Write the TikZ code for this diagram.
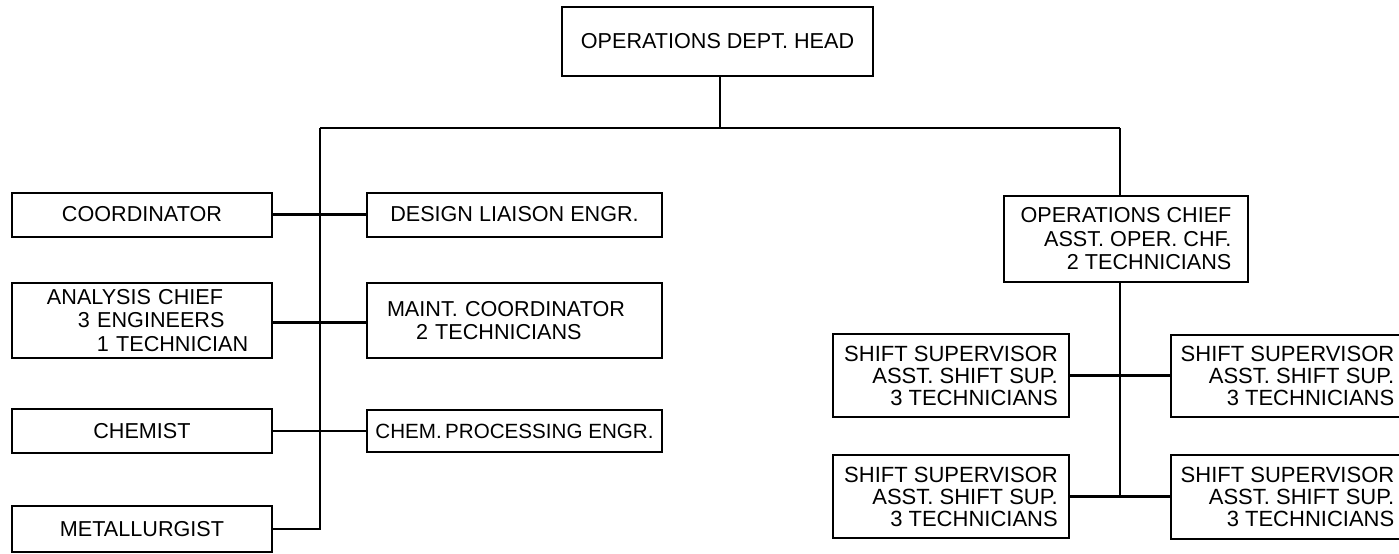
\documentclass[tikz,border=0pt]{standalone}
\usepackage{fontspec}
\setmainfont{Liberation Sans}
\begin{document}
\begin{tikzpicture}[x=0.5pt,y=-0.5pt,
  box/.style={draw, line width=1pt, inner sep=0pt, font=\fontsize{10.8}{11.75}\selectfont},
  shiftbox/.style={box, align=right, font=\fontsize{11}{11}\selectfont},
  conn/.style={line width=1.3pt}]
\clip (0,0) rectangle (1399,553);
\fill[white] (0,0) rectangle (1399,553);
% top
\node[box, minimum width=155.5pt, minimum height=34.5pt] (head) at (717.5,41.5) {OPERATIONS DEPT. HEAD};
% left column
\node[box, minimum width=130pt, minimum height=22pt] (coord) at (142,214.5) {COORDINATOR};
\node[box, minimum width=130pt, minimum height=37.5pt, align=left, text width=110pt, inner xsep=10pt] (analysis) at (142,320.5)
  {\hspace*{7.5pt}\mbox{ANALYSIS CHIEF}\\\hspace*{23pt}\mbox{3 ENGINEERS}\\\hspace*{32.5pt}\mbox{1 TECHNICIAN}};
\node[box, minimum width=130pt, minimum height=22pt] (chemist) at (142,431) {CHEMIST};
\node[box, minimum width=130pt, minimum height=23pt] (metal) at (142,529) {METALLURGIST};
% middle column
\node[box, minimum width=147.5pt, minimum height=22pt] (design) at (514.5,214.5) {DESIGN LIAISON ENGR.};
\node[box, minimum width=147.5pt, minimum height=37.5pt, align=left, text width=127.5pt, inner xsep=10pt] (maint) at (514.5,320.5)
  {\mbox{MAINT. COORDINATOR}\\\hspace*{14.5pt}\mbox{2 TECHNICIANS}};
\node[box, minimum width=147.5pt, minimum height=21pt, font=\fontsize{10.3}{11}\selectfont] (chemproc) at (514.5,431) {CHEM.\,PROCESSING ENGR.};
% right part
\node[box, align=right, minimum width=122pt, minimum height=43pt] (opschief) at (1126,239)
  {OPERATIONS CHIEF\\ASST. OPER. CHF.\\2 TECHNICIANS};
\node[shiftbox, minimum width=118pt, minimum height=41.5pt] (s1) at (951,375.5)
  {SHIFT SUPERVISOR\\ASST. SHIFT SUP.\\3 TECHNICIANS};
\node[shiftbox, minimum width=116.5pt, minimum height=41pt] (s2) at (1287.5,375.5)
  {SHIFT SUPERVISOR\\ASST. SHIFT SUP.\\3 TECHNICIANS};
\node[shiftbox, minimum width=118pt, minimum height=41.5pt] (s3) at (951,496.5)
  {SHIFT SUPERVISOR\\ASST. SHIFT SUP.\\3 TECHNICIANS};
\node[shiftbox, minimum width=116.5pt, minimum height=42pt] (s4) at (1287.5,496.5)
  {SHIFT SUPERVISOR\\ASST. SHIFT SUP.\\3 TECHNICIANS};
% junctions
\coordinate (jl) at (320,128);
\coordinate (jh) at (720,128);
\coordinate (jr) at (1120,128);
% connectors
\draw[conn] (jh |- head.south) -- (jh);
\draw[conn] (jl) -- (jr);
\draw[conn] (jl) -- (jl |- metal.east) -- (metal.east);
\draw[conn] (coord.east) -- (design.west);
\draw[conn] ([yshift=-1pt]analysis.east) -- ([yshift=-1pt]maint.west);
\draw[conn] (chemist.east) -- (chemproc.west);
\draw[conn] (jr) -- (jr |- opschief.north);
\draw[conn] (jr |- opschief.south) -- (jr |- s3.east);
\draw[conn] (s1.east) -- (s2.west);
\draw[conn] (s3.east) -- (s4.west);
\end{tikzpicture}
\end{document}
